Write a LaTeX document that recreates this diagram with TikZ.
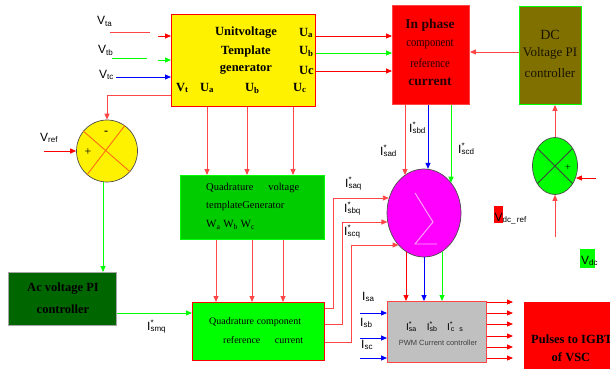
\documentclass[tikz,border=0pt]{standalone}
\usepackage{fontspec}
\setmainfont{Liberation Serif}
\newfontfamily\lsans{Liberation Sans}
\usetikzlibrary{shapes.geometric,arrows.meta}
\definecolor{cred}{RGB}{255,0,0}
\definecolor{lred}{RGB}{255,70,70}
\definecolor{cgreen}{RGB}{0,255,0}
\definecolor{mgreen}{RGB}{0,204,0}
\definecolor{dgreen}{RGB}{0,102,0}
\definecolor{olivebox}{RGB}{128,112,0}
\definecolor{cblue}{RGB}{0,0,255}
\definecolor{pwmgray}{RGB}{192,192,192}
\definecolor{magbox}{RGB}{255,0,255}
\definecolor{xorange}{RGB}{255,110,20}
\definecolor{sigpink}{RGB}{255,170,255}
\definecolor{darktext}{RGB}{40,0,0}
\definecolor{olivetext}{RGB}{25,20,0}
\newcommand\Istar[1]{I\rlap{\textsuperscript{*}}\textsubscript{#1}}
\newcommand\Isub[1]{I\textsubscript{#1}}
\newcommand\Vsub[1]{V\textsubscript{#1}}
\begin{document}
\begin{tikzpicture}[x=1pt,y=-1pt,
  blk/.style={draw,anchor=north west,inner sep=0pt,line width=0.9pt},
  circ/.style={ellipse,draw=black!70,line width=0.7pt,inner sep=0pt},
  arr/.style={-{Triangle[length=6pt,width=5pt]},line width=0.9pt},
  ln/.style={line width=0.9pt},
  lab/.style={font=\lsans\fontsize{12}{14}\selectfont,inner sep=0pt,anchor=base west},
  bt/.style={font=\bfseries\fontsize{12.5}{14}\selectfont,inner sep=0pt},
  rt/.style={font=\fontsize{12.5}{14}\selectfont,inner sep=0pt},
]
\clip (0,0) rectangle (610,369);
\fill[white] (0,0) rectangle (610,369);

% ---------------- blocks
\node[blk,draw=cred,fill=yellow,minimum width=144pt,minimum height=92pt] (utg) at (171,14) {};
\node[blk,draw=lred,fill=cred,minimum width=77pt,minimum height=99pt] (inph) at (392,5) {};
\node[blk,draw=cgreen,fill=olivebox,minimum width=62pt,minimum height=98pt] (dcpi) at (519,6) {};
\node[blk,draw=cgreen,fill=mgreen,minimum width=144pt,minimum height=64pt] (qvtg) at (180,175) {};
\node[blk,draw=black!35,fill=dgreen,minimum width=108pt,minimum height=53pt] (acpi) at (8,272) {};
\node[blk,draw=cred,fill=cgreen,minimum width=132pt,minimum height=58pt] (qcrc) at (192,302) {};
\node[blk,draw=lred,fill=pwmgray,minimum width=99pt,minimum height=61pt] (pwm) at (387,301) {};
\node[blk,draw=none,fill=cred,minimum width=100pt,minimum height=70pt] (pulse) at (524,302) {};

\node[circ,fill=yellow,minimum width=61pt,minimum height=62pt] (cmpac) at (107,151) {};
\node[circ,fill=magbox,minimum width=74pt,minimum height=88pt] (sum) at (424,213) {};
\node[circ,fill=cgreen,minimum width=45pt,minimum height=57pt] (cmpdc) at (555,166) {};

% symbols in circles
\draw[xorange,line width=0.9pt] (cmpac.140) -- (cmpac.318) (cmpac.55) -- (cmpac.230);
\draw[sigpink,line width=0.9pt] (415,193) -- (433,222) -- (415,244) -- (437,244);
\draw[black!75,line width=0.8pt] (cmpdc.135) -- (cmpdc.315) (cmpdc.45) -- (cmpdc.225);
\node[font=\fontsize{12}{14}\selectfont\bfseries,inner sep=0pt] at (106,133) {-};
\node[font=\fontsize{12}{14}\selectfont,inner sep=0pt] at (88,152) {+};
\node[font=\fontsize{10}{12}\selectfont,inner sep=0pt] at (568,168) {+};

% ---------------- texts in blocks
\node[bt] at (246,33) {Unitvoltage};
\node[bt] at (246,51) {Template};
\node[bt] at (246,69) {generator};
\node[bt,anchor=west] at (299,33) {U\textsubscript{a}};
\node[bt,anchor=west] at (299,51) {U\textsubscript{b}};
\node[bt,anchor=west] at (299,70) {Uc};
\node[bt,anchor=west] at (176,88) {V\textsubscript{t}};
\node[bt,anchor=west] at (200,88) {U\textsubscript{a}};
\node[bt,anchor=west] at (245,88) {U\textsubscript{b}};
\node[bt,anchor=west] at (293,88) {U\textsubscript{c}};

\node[bt,text=darktext,font=\bfseries\fontsize{13.5}{15}\selectfont] at (430,25) {In phase};
\node[rt,text=darktext] at (430,44) {\scalebox{0.85}[1]{component}};
\node[rt,text=darktext] at (430,63) {\scalebox{0.85}[1]{reference}};
\node[bt,text=darktext,font=\bfseries\fontsize{13.5}{15}\selectfont] at (430,82) {current};

\node[inner sep=0pt,text=olivetext,font=\fontsize{14}{16}\selectfont] at (550,35) {DC};
\node[inner sep=0pt,text=olivetext,font=\fontsize{13}{15}\selectfont] at (550,53) {Voltage PI};
\node[inner sep=0pt,text=olivetext,font=\fontsize{13}{15}\selectfont] at (550,73) {controller};

\node[inner sep=0pt,anchor=west,font=\fontsize{10.5}{12}\selectfont] at (206,188) {\makebox[93pt]{Quadrature\hfill voltage}};
\node[inner sep=0pt,anchor=west,font=\fontsize{10.5}{12}\selectfont] at (206,206) {templateGenerator};
\node[inner sep=0pt,anchor=west,font=\fontsize{11}{12}\selectfont] at (206,225) {W\textsubscript{a} W\textsubscript{b} W\textsubscript{c}};

\node[inner sep=0pt,anchor=west,font=\fontsize{10}{12}\selectfont] at (209,322) {\makebox[92pt]{Quadrature\hfill component}};
\node[inner sep=0pt,anchor=west,font=\fontsize{10}{12}\selectfont] at (223,340) {\makebox[80pt]{reference\hfill current}};

\node[bt] at (63,289) {Ac voltage PI};
\node[bt] at (63,309) {controller};

\node[bt,anchor=west] at (531,339) {Pulses to IGBT};
\node[bt] at (571,357) {of VSC};

\node[inner sep=0pt,text=black!75,font=\lsans\fontsize{7.5}{9}\selectfont] at (438,343) {PWM Current controller};
\node[lab,font=\lsans\fontsize{10}{12}\selectfont] at (406,330) {\Istar{sa}\hspace{10pt}\Istar{sb}\hspace{9.5pt}\Istar{\,c\hspace{5pt}s}};

% ---------------- labels
\node[lab] at (97,25) {\Vsub{ta}};
\node[lab] at (98,54) {\Vsub{tb}};
\node[lab] at (99,78) {\Vsub{tc}};
\node[lab] at (40,141) {\Vsub{ref}};
\node[lab] at (147,330) {\Istar{smq}};
\node[lab] at (345,187) {\Istar{saq}};
\node[lab] at (344,212) {\Istar{sbq}};
\node[lab] at (344,235) {\Istar{scq}};
\node[lab] at (409,132) {\Istar{sbd}};
\node[lab] at (380,155) {\Istar{sad}};
\node[lab] at (458,153) {\Istar{scd}};
\node[lab] at (362,300) {\Isub{sa}};
\node[lab] at (360,326) {\Isub{sb}};
\node[lab] at (361,348) {\Isub{sc}};
\fill[cred] (494,206) rectangle (503,223);
\node[lab] at (494.5,221) {\Vsub{dc\_\,ref}};
\fill[cgreen] (580,249) rectangle (595,268);
\node[lab] at (581,264) {\Vsub{dc}};

% ---------------- connectors
\coordinate (ta1) at (110,32); \coordinate (ta2) at (150,32); \coordinate (ta3) at (158,36);
\draw[ln,lred] (ta1) -- (ta2);
\draw[arr,cred] (ta3) -- (utg.west|-ta3);
\coordinate (tb1) at (112,58); \coordinate (tb2) at (147,58); \coordinate (tb3) at (158,60);
\draw[ln,cgreen] (tb1) -- (tb2);
\draw[arr,cgreen] (tb3) -- (utg.west|-tb3);
\coordinate (tc1) at (116,77);
\draw[arr,cblue] (tc1) -- (utg.west|-tc1);

\draw[arr,lred] (utg.west|-0,95) -| (cmpac.north);
\coordinate (vref) at (44,151);
\draw[arr,cred] (vref) -- (cmpac.west);
\draw[arr,cgreen] (cmpac.south-|103,0) -- (acpi.north-|103,0);
\draw[arr,cgreen] (acpi.east|-0,313) -- (qcrc.west|-0,313);

\foreach \x in {207,247,293} \draw[arr,lred] (utg.south-|\x,0) -- (qvtg.north-|\x,0);
\foreach \x in {216,252,283} \draw[arr,lred] (qvtg.south-|\x,0) -- (qcrc.north-|\x,0);

\draw[arr,cred] (utg.east|-0,36) -- (inph.west|-0,36);
\draw[arr,cgreen] (utg.east|-0,53) -- (inph.west|-0,53);
\draw[arr,cred] (utg.east|-0,71) -- (inph.west|-0,71);

\draw[arr,lred] (qcrc.east|-0,308) -- (333,308) -- (333,198) -- (sum.157|-0,198);
\draw[arr,lred] (qcrc.east|-0,324) -- (342,324) -- (342,222) -- (sum.194|-0,222);
\draw[arr,lred] (qcrc.east|-0,342) -- (351,342) -- (351,245) -- (sum.232|-0,245);

\draw[arr,lred] (inph.south-|405,0) -- (405,0|-sum.117);
\draw[arr,cblue] (inph.south-|428,0) -- (428,0|-sum.85);
\draw[arr,cgreen] (inph.south-|451,0) -- (451,0|-sum.48);

\draw[arr,cred] (406,0|-sum.245) -- (pwm.north-|406,0);
\draw[arr,cblue] (424,0|-sum.270) -- (pwm.north-|424,0);
\draw[arr,cgreen] (442,0|-sum.295) -- (pwm.north-|442,0);

\foreach \y in {313,338,358} {
  \coordinate (isin\y) at (360,\y);
  \draw[arr,cblue] (isin\y) -- (pwm.west|-isin\y);
}
\foreach \y in {302,313,324,336,347,358} {
  \coordinate (gout\y) at (513,\y);
  \draw[arr,cred] (pwm.east|-gout\y) -- (gout\y);
}

\draw[arr,lred] (dcpi.west|-0,52) -- (inph.east|-0,52);
\draw[arr,lred] (cmpdc.north) -- (dcpi.south-|cmpdc.north);
\coordinate (vdcin) at (596,178);
\draw[arr,cred] (vdcin) -- (cmpdc.331|-vdcin);
\coordinate (vrefin) at (555,237);
\draw[arr,lred] (vrefin) -- (cmpdc.south);
\end{tikzpicture}
\end{document}
